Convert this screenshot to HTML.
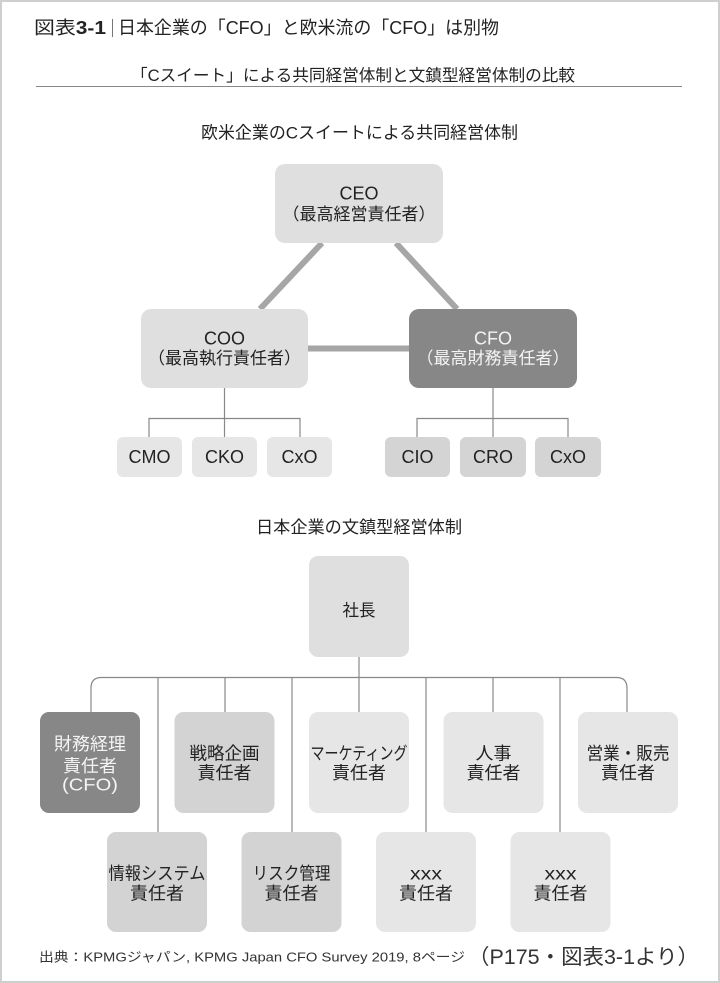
<!DOCTYPE html>
<html><head><meta charset="utf-8"><style>
html,body{margin:0;padding:0;background:#fff;}
svg{display:block;}
text{font-family:"Liberation Sans","Noto Sans CJK JP",sans-serif;fill:#222;}
</style></head><body>
<svg width="720" height="983" viewBox="0 0 720 983" xmlns="http://www.w3.org/2000/svg">
<rect x="0" y="0" width="720" height="983" fill="#fff"/>
<rect x="1" y="1" width="718" height="981" fill="none" stroke="#cfcfcf" stroke-width="2"/>

<!-- title -->
<text x="34" y="34" font-size="18" textLength="72" lengthAdjust="spacingAndGlyphs">図表<tspan font-weight="bold">3-1</tspan></text>
<line x1="112.5" y1="19" x2="112.5" y2="37" stroke="#777" stroke-width="1"/>
<text x="118" y="34" font-size="18" textLength="381" lengthAdjust="spacingAndGlyphs">日本企業の「CFO」と欧米流の「CFO」は別物</text>

<text x="131" y="81" font-size="16.5" textLength="444" lengthAdjust="spacingAndGlyphs">「Cスイート」による共同経営体制と文鎮型経営体制の比較</text>
<line x1="36" y1="86.5" x2="682" y2="86.5" stroke="#888" stroke-width="1"/>

<text x="201" y="138.6" font-size="17" textLength="317" lengthAdjust="spacingAndGlyphs">欧米企業のCスイートによる共同経営体制</text>

<!-- thick connectors -->
<g stroke="#a6a6a6" stroke-width="6">
<line x1="322" y1="243" x2="260" y2="309"/>
<line x1="396" y1="243" x2="457" y2="309"/>
<line x1="308" y1="348.5" x2="409" y2="348.5"/>
</g>

<!-- top boxes -->
<rect x="275" y="164" width="168" height="79" rx="10" fill="#dfdfdf"/>
<text x="359" y="199.5" font-size="18" text-anchor="middle">CEO</text>
<text x="359" y="220" font-size="17" text-anchor="middle">（最高経営責任者）</text>

<rect x="141" y="309" width="167" height="79" rx="10" fill="#dfdfdf"/>
<text x="224.5" y="344.5" font-size="18" text-anchor="middle">COO</text>
<text x="224.5" y="364" font-size="17" text-anchor="middle">（最高執行責任者）</text>

<rect x="409" y="309" width="168" height="79" rx="10" fill="#878787"/>
<text x="493" y="344.5" font-size="18" text-anchor="middle" style="fill:#f4f4f4">CFO</text>
<text x="493" y="364" font-size="17" text-anchor="middle" style="fill:#f4f4f4">（最高財務責任者）</text>

<!-- thin child connectors -->
<g stroke="#888" stroke-width="1.2" fill="none">
<line x1="224.5" y1="388" x2="224.5" y2="437"/>
<polyline points="149,437 149,418.5 300,418.5 300,437"/>
<line x1="493" y1="388" x2="493" y2="437"/>
<polyline points="417,437 417,418.5 568,418.5 568,437"/>
</g>

<!-- child boxes -->
<rect x="117" y="437" width="65" height="40" rx="6" fill="#e6e6e6"/>
<rect x="192" y="437" width="65" height="40" rx="6" fill="#e6e6e6"/>
<rect x="267" y="437" width="65" height="40" rx="6" fill="#e6e6e6"/>
<rect x="385" y="437" width="65" height="40" rx="6" fill="#d4d4d4"/>
<rect x="460" y="437" width="66" height="40" rx="6" fill="#d4d4d4"/>
<rect x="535" y="437" width="66" height="40" rx="6" fill="#d4d4d4"/>
<g font-size="18" text-anchor="middle">
<text x="149.5" y="463">CMO</text>
<text x="224.5" y="463">CKO</text>
<text x="299.5" y="463">CxO</text>
<text x="417.5" y="463">CIO</text>
<text x="493" y="463">CRO</text>
<text x="568" y="463">CxO</text>
</g>

<!-- second diagram -->
<text x="256" y="533" font-size="17" textLength="206" lengthAdjust="spacingAndGlyphs">日本企業の文鎮型経営体制</text>

<rect x="309" y="556" width="100" height="101" rx="9" fill="#dfdfdf"/>
<text x="359" y="616" font-size="16.5" text-anchor="middle">社長</text>

<g stroke="#888" stroke-width="1.2" fill="none">
<line x1="359" y1="657" x2="359" y2="712"/>
<path d="M91 712 V688 Q91 677.5 101.5 677.5 H616.5 Q627 677.5 627 688 V712"/>
<line x1="225" y1="677.5" x2="225" y2="712"/>
<line x1="493" y1="677.5" x2="493" y2="712"/>
<line x1="158" y1="677.5" x2="158" y2="832"/>
<line x1="292" y1="677.5" x2="292" y2="832"/>
<line x1="426" y1="677.5" x2="426" y2="832"/>
<line x1="560" y1="677.5" x2="560" y2="832"/>
</g>

<!-- top row -->
<rect x="40" y="712" width="100" height="101" rx="9" fill="#878787"/>
<rect x="174.5" y="712" width="100" height="101" rx="9" fill="#d3d3d3"/>
<rect x="309" y="712" width="100" height="101" rx="9" fill="#e6e6e6"/>
<rect x="443.5" y="712" width="100" height="101" rx="9" fill="#e6e6e6"/>
<rect x="578" y="712" width="100" height="101" rx="9" fill="#e6e6e6"/>

<g font-size="17.5" text-anchor="middle">
<text x="90" y="750" textLength="72" lengthAdjust="spacingAndGlyphs" style="fill:#f4f4f4">財務経理</text>
<text x="90" y="772" textLength="54" lengthAdjust="spacingAndGlyphs" style="fill:#f4f4f4">責任者</text>
<text x="90" y="790.5" textLength="56" lengthAdjust="spacingAndGlyphs" style="fill:#f4f4f4">(CFO)</text>

<text x="224.5" y="759.5" textLength="70" lengthAdjust="spacingAndGlyphs">戦略企画</text>
<text x="224.5" y="779" textLength="54" lengthAdjust="spacingAndGlyphs">責任者</text>

<text x="359" y="759.5" textLength="97" lengthAdjust="spacingAndGlyphs">マーケティング</text>
<text x="359" y="779" textLength="54" lengthAdjust="spacingAndGlyphs">責任者</text>

<text x="493.5" y="759.5" textLength="36" lengthAdjust="spacingAndGlyphs">人事</text>
<text x="493.5" y="779" textLength="54" lengthAdjust="spacingAndGlyphs">責任者</text>

<text x="628" y="759.5" textLength="83" lengthAdjust="spacingAndGlyphs">営業・販売</text>
<text x="628" y="779" textLength="54" lengthAdjust="spacingAndGlyphs">責任者</text>
</g>

<!-- second row -->
<rect x="107" y="832" width="100" height="100" rx="9" fill="#d3d3d3"/>
<rect x="241.5" y="832" width="100" height="100" rx="9" fill="#d3d3d3"/>
<rect x="376" y="832" width="100" height="100" rx="9" fill="#e6e6e6"/>
<rect x="510.5" y="832" width="100" height="100" rx="9" fill="#e6e6e6"/>

<g font-size="17.5" text-anchor="middle">
<text x="157" y="879.5" textLength="97" lengthAdjust="spacingAndGlyphs">情報システム</text>
<text x="157" y="899.5" textLength="54" lengthAdjust="spacingAndGlyphs">責任者</text>
<text x="291.5" y="879.5" textLength="78" lengthAdjust="spacingAndGlyphs">リスク管理</text>
<text x="291.5" y="899.5" textLength="54" lengthAdjust="spacingAndGlyphs">責任者</text>
<text x="426" y="879.5" textLength="32" lengthAdjust="spacingAndGlyphs">xxx</text>
<text x="426" y="899.5" textLength="54" lengthAdjust="spacingAndGlyphs">責任者</text>
<text x="560.5" y="879.5" textLength="32" lengthAdjust="spacingAndGlyphs">xxx</text>
<text x="560.5" y="899.5" textLength="54" lengthAdjust="spacingAndGlyphs">責任者</text>
</g>

<!-- footer -->
<text x="39" y="961.7" font-size="13" textLength="426" lengthAdjust="spacingAndGlyphs" style="fill:#333">出典：KPMGジャパン, KPMG Japan CFO Survey 2019, 8ページ</text>
<text x="468" y="964" font-size="21" textLength="231" lengthAdjust="spacingAndGlyphs" style="fill:#333">（P175・図表3-1より）</text>
</svg>
</body></html>
